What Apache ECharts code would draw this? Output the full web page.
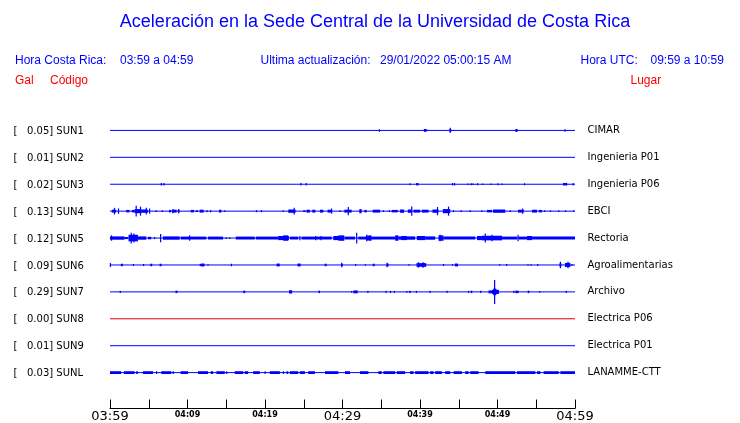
<!DOCTYPE html>
<html>
<head>
<meta charset="utf-8">
<script src="https://cdn.jsdelivr.net/npm/echarts@6/dist/echarts.min.js"></script>
<style>html,body{margin:0;padding:0;background:#fff;}#c{width:740px;height:423px;}</style>
</head>
<body>
<div id="c"></div>
<script>
// ---------- data ----------
const stations = ['SUN1','SUN2','SUN3','SUN4','SUN5','SUN6','SUN7','SUN8','SUN9','SUNL'];
const peaks = ['0.05','0.01','0.02','0.13','0.12','0.09','0.29','0.00','0.01','0.03'];
const places = ['CIMAR','Ingenieria P01','Ingenieria P06','EBCI','Rectoria','Agroalimentarias','Archivo','Electrica P06','Electrica P01','LANAMME-CTT'];
const tickValues = [0, 10, 20, 30, 40, 50, 60];            // minutes after 03:59
const tickLabels = ['03:59','04:09','04:19','04:29','04:39','04:49','04:59'];
const majorTicks = ['03:59','04:29','04:59'];
const timeSpan = [0, 60];

// bursts per trace: [start minute, end minute, half amplitude (gal)]
const sun1 = [[34.76,34.76,0.03],[40.5,40.85,0.035],[41.0,41.05,0.015],[43.8,44.05,0.03],[43.9,43.9,0.065],[52.3,52.6,0.035],[58.72,58.72,0.03]];
const sun2 = [];
const sun3 = [[6.62,6.62,0.03],[6.96,6.96,0.03],[24.63,24.63,0.03],[25.32,25.32,0.03],[38.72,38.72,0.025],[39.5,39.8,0.03],[44.2,44.2,0.03],[44.46,44.46,0.03],[46.18,46.18,0.02],[46.61,46.61,0.025],[46.83,46.83,0.02],[47.43,47.43,0.025],[48.08,48.08,0.02],[49.15,49.15,0.02],[50.06,50.06,0.025],[50.58,50.58,0.02],[53.5,53.5,0.025],[58.45,59.0,0.03],[59.76,59.76,0.03]];
const sun4 = [[0.24,0.8,0.035],[0.58,0.58,0.08],[1.1,1.1,0.065],[2.09,2.52,0.03],[2.82,3.17,0.03],[3.17,4.03,0.05],[3.38,3.38,0.13],[3.94,3.94,0.11],[4.03,4.89,0.04],[4.68,4.68,0.08],[5.11,5.11,0.065],[5.97,5.97,0.02],[6.75,6.75,0.02],[7.61,7.9,0.03],[8.05,8.6,0.035],[8.75,8.99,0.03],[8.12,8.12,0.05],[8.86,8.86,0.05],[10.41,10.84,0.03],[11.06,11.36,0.02],[11.57,12.09,0.035],[12.52,12.52,0.025],[12.99,12.99,0.025],[14.07,14.37,0.035],[14.81,14.81,0.02],[18.9,18.9,0.025],[19.55,19.55,0.025],[22.35,22.35,0.02],[23.0,23.94,0.04],[23.77,23.77,0.08],[24.93,25.23,0.02],[25.36,25.79,0.035],[26.1,26.5,0.035],[27.09,27.52,0.035],[28.08,28.6,0.035],[28.6,28.6,0.065],[29.67,29.67,0.02],[30.23,31.18,0.035],[30.75,30.75,0.1],[32.17,32.47,0.05],[32.82,33.12,0.03],[33.9,34.85,0.035],[35.28,35.28,0.02],[36.05,36.05,0.02],[36.35,37.13,0.03],[37.43,37.95,0.04],[38.43,38.94,0.04],[38.94,38.94,0.11],[39.16,40.02,0.035],[40.23,41.1,0.035],[41.61,42.39,0.04],[42.26,42.26,0.1],[42.95,43.9,0.05],[43.68,43.68,0.11],[44.33,44.33,0.025],[45.32,45.32,0.02],[46.48,46.48,0.02],[47.99,47.99,0.02],[48.64,49.29,0.03],[49.42,51.01,0.04],[51.66,51.66,0.02],[52.65,53.38,0.035],[53.25,53.25,0.065],[54.46,55.1,0.035],[55.32,55.75,0.03],[56.1,56.1,0.02],[56.83,56.83,0.02],[57.91,57.91,0.02],[58.77,58.77,0.02],[59.84,59.84,0.02]];
const sun5 = [[0,1.87,0.04],[0.2,0.2,0.065],[1.87,2.31,0.025],[2.39,3.6,0.08],[2.74,2.74,0.13],[3.08,3.08,0.11],[3.6,4.68,0.04],[4.9,5.32,0.03],[5.75,5.75,0.025],[6.53,6.53,0.1],[6.83,8.99,0.04],[9.12,10.28,0.035],[10.28,10.28,0.065],[10.28,12.43,0.035],[12.65,14.59,0.035],[15.0,15.0,0.02],[15.45,15.45,0.02],[16.23,18.68,0.035],[18.82,21.7,0.035],[21.7,23.08,0.05],[22.35,23.0,0.065],[23.21,24.29,0.035],[24.5,24.5,0.05],[24.72,26.44,0.035],[26.53,26.53,0.05],[26.53,28.6,0.035],[27.22,27.22,0.05],[28.81,30.23,0.05],[29.46,30.23,0.065],[30.32,31.61,0.035],[31.83,31.83,0.13],[32.05,33.12,0.035],[33.12,33.77,0.06],[33.12,33.12,0.08],[33.55,33.55,0.065],[33.77,36.79,0.035],[36.79,37.22,0.065],[37.22,39.37,0.04],[37.6,38.3,0.05],[39.59,40.67,0.05],[40.67,41.96,0.04],[42.39,43.04,0.065],[42.6,42.6,0.08],[43.04,47.13,0.035],[47.35,47.99,0.05],[47.99,50.58,0.056],[48.42,48.42,0.11],[49.29,49.29,0.08],[50.58,52.52,0.035],[52.65,52.65,0.08],[52.73,53.81,0.035],[53.81,54.46,0.05],[54.46,60,0.035]];
const sun6 = [[0.05,0.05,0.05],[1.4,1.66,0.03],[2.95,3.1,0.025],[4.33,4.33,0.025],[5.2,5.45,0.03],[6.4,6.65,0.03],[11.65,11.65,0.025],[11.7,12.2,0.035],[12.65,12.65,0.02],[15.67,15.67,0.03],[21.5,21.9,0.035],[24.2,24.6,0.035],[27.7,27.95,0.03],[29.8,30.05,0.03],[29.9,29.9,0.056],[31.7,31.7,0.025],[32.95,32.95,0.02],[33.9,34.15,0.03],[35.7,35.95,0.035],[35.75,35.75,0.056],[38.6,38.6,0.02],[39.55,40.8,0.045],[39.8,39.8,0.065],[40.4,40.4,0.065],[43.04,43.04,0.025],[44.2,44.2,0.02],[44.5,44.9,0.035],[50.28,50.28,0.02],[51.18,51.18,0.025],[53.94,53.94,0.02],[54.33,54.33,0.02],[55.19,55.19,0.025],[58.0,58.25,0.04],[58.12,58.12,0.08],[58.7,59.4,0.05],[59.1,59.1,0.08],[59.6,59.6,0.025]];
const sun7 = [[1.25,1.4,0.03],[8.45,8.7,0.03],[17.2,17.45,0.03],[23.1,23.5,0.04],[26.9,27.1,0.03],[31.18,31.18,0.02],[31.4,31.96,0.035],[33.2,33.35,0.03],[35.55,35.7,0.03],[36.2,36.2,0.025],[36.7,36.7,0.025],[38.3,38.3,0.02],[38.6,38.8,0.03],[39.53,39.53,0.025],[41.3,41.3,0.025],[43.5,43.5,0.025],[46.27,46.27,0.025],[46.55,46.75,0.03],[47.75,47.9,0.03],[48.85,49.29,0.035],[49.29,50.1,0.05],[49.45,49.85,0.08],[49.63,49.63,0.29],[50.1,50.1,0.05],[52.1,52.1,0.025],[52.3,52.73,0.03],[53.9,54.1,0.03],[55.45,55.45,0.02],[58.8,58.95,0.03]];
const sun8 = [];
const sun9 = [];
const sunl = [[0,1.44,0.034],[1.79,3.17,0.034],[3.38,3.6,0.034],[4.25,5.54,0.034],[5.97,6.05,0.034],[6.62,7.91,0.034],[8.12,8.2,0.034],[9.12,10.06,0.034],[11.36,12.65,0.034],[12.99,13.3,0.034],[13.73,14.81,0.034],[15.02,15.1,0.034],[16.1,17.2,0.034],[17.39,17.82,0.034],[18.47,19.33,0.034],[19.98,20.05,0.034],[20.62,21.92,0.034],[22.35,22.42,0.034],[22.78,23.0,0.034],[23.21,24.29,0.034],[24.5,25.15,0.034],[25.58,26.44,0.034],[27.74,29.46,0.034],[30.32,30.97,0.034],[32.26,33.34,0.034],[34.63,35.06,0.034],[35.28,36.79,0.034],[37.0,38.08,0.034],[38.72,39.16,0.034],[39.37,41.1,0.034],[41.31,41.74,0.034],[41.96,42.82,0.034],[43.25,43.9,0.034],[44.33,45.4,0.034],[45.84,46.27,0.034],[46.48,47.56,0.034],[48.42,52.3,0.034],[52.52,54.89,0.034],[55.1,55.53,0.034],[55.96,57.9,0.034],[58.12,60,0.034]];
const bursts = [sun1, sun2, sun3, sun4, sun5, sun6, sun7, sun8, sun9, sunl];

// ---------- styles ----------
const BLUE = '#0000ff', RED = '#ff0000';
const traceColors = [BLUE,BLUE,BLUE,BLUE,BLUE,BLUE,BLUE,'#dd0000',BLUE,BLUE];
const GAL_PER_ROW = 0.65;
const SANS = 'Liberation Sans';
const DV = 'DejaVu Sans';

const chart = echarts.init(document.getElementById('c'), null, {renderer: 'canvas'});

function renderBaseline(params, api) {
  const row = api.value(2);
  const a = api.coord([api.value(0), row]);
  const b = api.coord([api.value(1), row]);
  return {type: 'line', shape: {x1: a[0], y1: a[1], x2: b[0], y2: b[1]},
          style: {stroke: traceColors[row], lineWidth: 1}};
}
function renderBurst(params, api) {
  const t0 = api.value(0), t1 = api.value(1), row = api.value(2), amp = api.value(3);
  const d = amp / GAL_PER_ROW;
  const p0 = api.coord([t0, row - d]);
  const p1 = api.coord([t1, row + d]);
  let x = Math.min(p0[0], p1[0]), w = Math.abs(p1[0] - p0[0]);
  if (w < 1.2) { x = (p0[0] + p1[0]) / 2 - 0.6; w = 1.2; }
  const y = Math.min(p0[1], p1[1]), h = Math.max(1, Math.abs(p1[1] - p0[1]));
  return {type: 'rect', shape: {x: x, y: y, width: w, height: h}, style: {fill: traceColors[row]}};
}

const series = [{
  type: 'custom', name: 'baseline', renderItem: renderBaseline, silent: true,
  encode: {x: [0, 1], y: 2},
  data: stations.map((s, i) => [timeSpan[0], timeSpan[1], i])
}];
bursts.forEach((b, i) => {
  series.push({
    type: 'custom', name: stations[i], renderItem: renderBurst, silent: true,
    encode: {x: [0, 1], y: 2},
    data: b.map(e => [e[0], e[1], i, e[2]])
  });
});

const rowLabel = v => (Number.isInteger(v) && v >= 0 && v < stations.length) ? v : -1;
const Y_MAX = 10.3333;

const option = {
  animation: false,
  backgroundColor: '#fff',
  grid: {left: 110, right: 165, top: 103.5, bottom: 13.5},
  xAxis: {
    type: 'value', min: 0, max: 60, interval: 5,
    axisLine: {show: true, onZero: false, lineStyle: {color: '#000', width: 1}},
    axisTick: {show: true, inside: true, length: 9, lineStyle: {color: '#000', width: 1}},
    splitLine: {show: false},
    axisLabel: {
      margin: 1, verticalAlign: 'top', color: '#000',
      formatter: function (v) {
        const k = tickValues.indexOf(v);
        if (k < 0) return '';
        const t = tickLabels[k];
        return majorTicks.indexOf(t) >= 0 ? '{big|' + t + '}' : '{small|' + t + '}';
      },
      rich: {
        big: {fontFamily: DV, fontSize: 13, color: '#000', lineHeight: 14},
        small: {fontFamily: DV, fontSize: 8, fontWeight: 'bold', color: '#000', lineHeight: 10}
      }
    }
  },
  yAxis: [{
    type: 'value', inverse: true, min: -1, max: Y_MAX, interval: 1, position: 'left',
    axisLine: {show: false}, axisTick: {show: false}, splitLine: {show: false},
    axisLabel: {
      align: 'left', margin: 96.5, verticalAlign: 'middle', padding: [2, 0, 0, 0],
      formatter: function (v) {
        const i = rowLabel(v);
        if (i < 0) return '';
        return '{br|[}{t|' + peaks[i] + '] ' + stations[i] + '}';
      },
      rich: {
        br: {fontFamily: DV, fontSize: 10, color: '#000', width: 13.5},
        t: {fontFamily: DV, fontSize: 10, color: '#000'}
      }
    }
  }, {
    type: 'value', inverse: true, min: -1, max: Y_MAX, interval: 1, position: 'right',
    axisLine: {show: false}, axisTick: {show: false}, splitLine: {show: false},
    axisLabel: {
      align: 'left', margin: 12.5, verticalAlign: 'middle', padding: [2, 0, 0, 0],
      fontFamily: DV, fontSize: 10, color: '#000',
      formatter: function (v) {
        const i = rowLabel(v);
        return i < 0 ? '' : places[i];
      }
    }
  }],
  graphic: [
    {type: 'text', x: 375, y: 22, style: {text: 'Aceleración en la Sede Central de la Universidad de Costa Rica', fill: BLUE, font: '18px "' + SANS + '"', textAlign: 'center', textVerticalAlign: 'middle'}},
    {type: 'text', x: 15, y: 61, style: {text: 'Hora Costa Rica:', fill: BLUE, font: '12px "' + SANS + '"', textVerticalAlign: 'middle'}},
    {type: 'text', x: 120, y: 61, style: {text: '03:59 a 04:59', fill: BLUE, font: '12px "' + SANS + '"', textVerticalAlign: 'middle'}},
    {type: 'text', x: 260.5, y: 61, style: {text: 'Ultima actualización:', fill: BLUE, font: '12px "' + SANS + '"', textVerticalAlign: 'middle'}},
    {type: 'text', x: 380, y: 61, style: {text: '29/01/2022 05:00:15 AM', fill: BLUE, font: '12px "' + SANS + '"', textVerticalAlign: 'middle'}},
    {type: 'text', x: 580.5, y: 61, style: {text: 'Hora UTC:', fill: BLUE, font: '12px "' + SANS + '"', textVerticalAlign: 'middle'}},
    {type: 'text', x: 650.5, y: 61, style: {text: '09:59 a 10:59', fill: BLUE, font: '12px "' + SANS + '"', textVerticalAlign: 'middle'}},
    {type: 'text', x: 15, y: 80.5, style: {text: 'Gal', fill: RED, font: '12px "' + SANS + '"', textVerticalAlign: 'middle'}},
    {type: 'text', x: 50, y: 80.5, style: {text: 'Código', fill: RED, font: '12px "' + SANS + '"', textVerticalAlign: 'middle'}},
    {type: 'text', x: 630.5, y: 80.5, style: {text: 'Lugar', fill: RED, font: '12px "' + SANS + '"', textVerticalAlign: 'middle'}}
  ],
  series: series
};
chart.setOption(option);
</script>
</body>
</html>
